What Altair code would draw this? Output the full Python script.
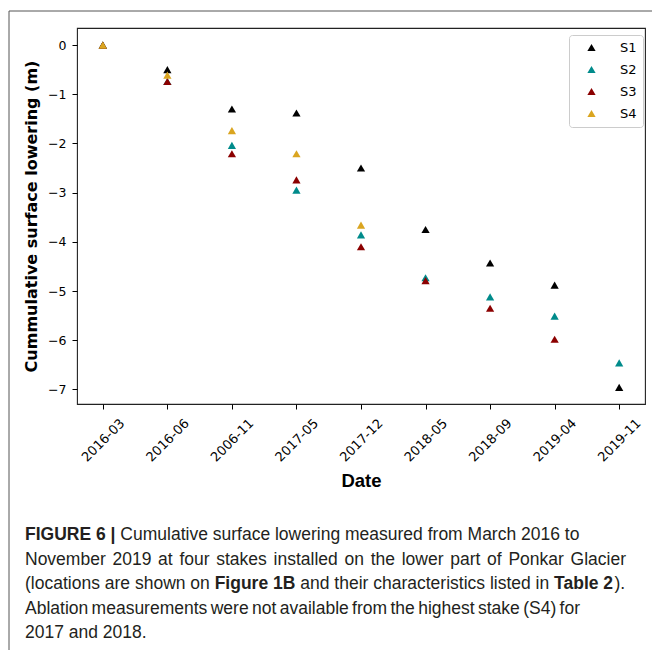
import altair as alt
import pandas as pd

# ---- data ----
dates = ["2016-03", "2016-06", "2006-11", "2017-05", "2017-12",
         "2018-05", "2018-09", "2019-04", "2019-11"]
stakes = ["S1", "S2", "S3", "S4"]
s1 = [0.0, -0.50, -1.30, -1.38, -2.50, -3.75, -4.43, -4.88, -6.96]
s2 = [0.0, -0.74, -2.04, -2.95, -3.86, -4.73, -5.12, -5.51, -6.46]
s3 = [0.0, -0.74, -2.21, -2.74, -4.10, -4.79, -5.35, -5.98, None]
s4 = [0.0, -0.61, -1.74, -2.21, -3.66, None, None, None, None]
colors = ["#000000", "#008b8b", "#8b0000", "#daa520"]
y_ticks = [-7, -6, -5, -4, -3, -2, -1, 0]

# caption lines made of (text, bold) runs
caption_runs = [
    [("FIGURE 6 | ", True), ("Cumulative surface lowering measured from March 2016 to", False)],
    None,  # justified line, below
    [("(locations are shown on ", False), ("Figure 1B", True),
     (" and their characteristics listed in ", False), ("Table 2", True), (").", False)],
    None,  # justified line, below
    [("2017 and 2018.", False)],
]
# justified caption lines: (text, x_left, x_right, line_index)
caption_justified = [
    ("November 2019 at four stakes installed on the lower part of Ponkar Glacier", 25, 626, 1),
    ("Ablation measurements were not available from the highest stake (S4) for", 25, 580, 3),
]

rows = []
for name, vals in zip(stakes, [s1, s2, s3, s4]):
    for d, v in zip(dates, vals):
        if v is not None:
            rows.append({"date": d, "stake": name, "lowering": v})
df = pd.DataFrame(rows)

# ---- layout ----
LEFT, TOP = 77, 28
W, H = 568, 376
CAP_FONT, CAP_SIZE, CAP_COLOR = "Liberation Sans", 17.5, "#231f20"
CAP_X, BASE0, LINE_STEP = 25, 540, 24.5

# Arial / Liberation Sans advance widths (per 1000 em)
ARIAL = {" ": 278, "(": 333, ")": 333, ".": 278, "|": 260, "A": 667, "G": 778, "N": 722,
         "P": 667, "S": 667, "C": 722, "M": 833,
         "a": 556, "b": 556, "c": 500, "d": 556, "e": 556, "f": 278, "g": 556, "h": 556,
         "i": 222, "k": 500, "l": 222, "m": 833, "n": 556, "o": 556, "p": 556, "r": 333,
         "s": 500, "t": 278, "u": 556, "v": 500, "w": 722, "z": 500}
ARIAL_BOLD = {" ": 278, "|": 280, "F": 611, "I": 278, "G": 778, "U": 722, "R": 722, "E": 667,
              "T": 611, "B": 722, "i": 278, "g": 611, "u": 611, "r": 389, "e": 556,
              "a": 556, "b": 611, "l": 278}


def text_width(s, size, bold=False):
    table = ARIAL_BOLD if bold else ARIAL
    return sum(table.get(c, 556) for c in s) * size / 1000.0


points = alt.Chart(df).mark_point(
    shape="triangle-up", filled=True, size=68, opacity=1, strokeWidth=0
).encode(
    x=alt.X("date:N", sort=dates,
            scale=alt.Scale(type="point", padding=0.4),
            axis=alt.Axis(title="Date", labelAngle=315, labelAlign="center",
                          labelBaseline="middle", labelPadding=31, tickSize=5,
                          tickColor="black", domain=False, grid=False,
                          labelFont="DejaVu Sans", labelFontSize=13, labelColor="black",
                          labelOverlap=False, labelBound=False, labelFlush=False,
                          titleFont="Liberation Sans", titleFontSize=18.5,
                          titleFontWeight="bold", titleColor="black",
                          titleX=W / 2, titleY=82, titleBaseline="alphabetic")),
    y=alt.Y("lowering:Q",
            scale=alt.Scale(domain=[-7.2975, 0.3475], nice=False, zero=False),
            axis=alt.Axis(title="Cummulative surface lowering (m)", values=y_ticks,
                          tickSize=5, tickColor="black", labelPadding=6,
                          labelFont="DejaVu Sans", labelFontSize=12.5, labelColor="black",
                          grid=False, domain=False,
                          titleFont="DejaVu Sans", titleFontSize=16, titleFontWeight="bold",
                          titleColor="black", titleAngle=270, titleX=-41, titleY=H / 2,
                          titleAlign="center", titleBaseline="alphabetic")),
    color=alt.Color("stake:N", scale=alt.Scale(domain=stakes, range=colors),
                    legend=alt.Legend(title=None, orient="none", legendX=492, legendY=7,
                                      padding=6, cornerRadius=3, strokeColor="#cccccc",
                                      fillColor="rgba(255,255,255,0.8)",
                                      symbolOffset=10, labelOffset=22, rowPadding=8,
                                      labelFont="DejaVu Sans", labelFontSize=13,
                                      labelColor="black", symbolSize=68,
                                      symbolType="triangle-up", symbolStrokeWidth=0)),
)

dummy = pd.DataFrame({"k": [0]})


def text_layer(text, bold, xp, li):
    return alt.Chart(dummy).mark_text(
        text=text, align="left", baseline="alphabetic", font=CAP_FONT,
        fontSize=CAP_SIZE, fontWeight="bold" if bold else "normal", color=CAP_COLOR
    ).encode(x=alt.value(xp - LEFT), y=alt.value(BASE0 + li * LINE_STEP - TOP))


layers = [points]
for li, runs in enumerate(caption_runs):
    if runs is None:
        continue
    xp = CAP_X
    for text, bold in runs:
        lead = len(text) - len(text.lstrip(" "))
        xp += text_width(" " * lead, CAP_SIZE, bold)
        body = text.strip(" ")
        layers.append(text_layer(body, bold, xp, li))
        xp += text_width(text.lstrip(" "), CAP_SIZE, bold)

for text, x0, x1, li in caption_justified:
    words = text.split(" ")
    total = sum(text_width(w, CAP_SIZE) for w in words)
    gap = (x1 - x0 - total) / (len(words) - 1)
    xp = x0
    for w in words:
        layers.append(text_layer(w, False, xp, li))
        xp += text_width(w, CAP_SIZE) + gap

# outer figure frame (top and left lines)
layers.append(alt.Chart(dummy).mark_rule(color="#555555", strokeWidth=1).encode(
    x=alt.value(9 - LEFT), y=alt.value(11 - TOP), y2=alt.value(650 - TOP)))
layers.append(alt.Chart(dummy).mark_rule(color="#555555", strokeWidth=1).encode(
    x=alt.value(9 - LEFT), x2=alt.value(652 - LEFT), y=alt.value(11 - TOP)))

chart = alt.layer(*layers).properties(
    width=W, height=H,
    autosize=alt.AutoSizeParams(type="none"),
    padding={"left": LEFT, "top": TOP, "right": 652 - LEFT - W, "bottom": 650 - TOP - H},
    background="white",
).configure_view(stroke="#222222", strokeWidth=1.1)

chart.save("out.html", embed_options={"renderer": "svg", "actions": False})
